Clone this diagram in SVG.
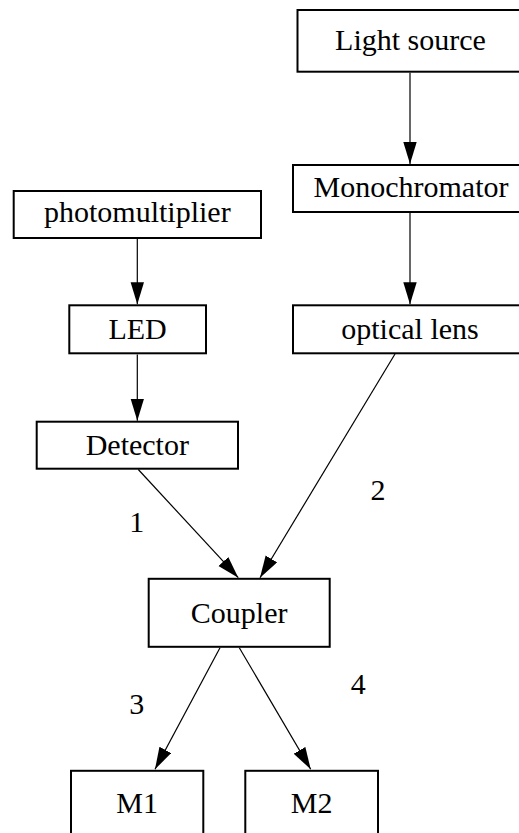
<svg xmlns="http://www.w3.org/2000/svg" width="519" height="833" viewBox="0 0 519 833">
<style>
.node rect{fill:#fff;stroke:#000;stroke-width:2}
.edge{stroke:#000;stroke-width:1.2;fill:none}
</style>
<defs>
<marker id="ah" markerUnits="userSpaceOnUse" markerWidth="22" markerHeight="14" refX="22" refY="6.7" orient="auto">
<path d="M0,0 L22,6.7 L0,13.4 z" fill="#000"/>
</marker>
</defs>
<g font-family="'Liberation Serif', 'Times New Roman', Times, serif" font-size="30" text-anchor="middle" fill="#000">
<g id="connectors">
<line class="edge" x1="410" y1="72.7" x2="410" y2="164" marker-end="url(#ah)"/>
<line class="edge" x1="410" y1="213" x2="410" y2="304.3" marker-end="url(#ah)"/>
<line class="edge" x1="137.3" y1="239" x2="137.3" y2="304.3" marker-end="url(#ah)"/>
<line class="edge" x1="137.3" y1="354.5" x2="137.3" y2="420.7" marker-end="url(#ah)"/>
<line class="edge" x1="138.3" y1="469.5" x2="238.3" y2="577.7" marker-end="url(#ah)"/>
<line class="edge" x1="395" y1="354" x2="260" y2="577.7" marker-end="url(#ah)"/>
<line class="edge" x1="220" y1="647.7" x2="155" y2="769.3" marker-end="url(#ah)"/>
<line class="edge" x1="239.3" y1="647.7" x2="310.7" y2="769.3" marker-end="url(#ah)"/>
<text x="136.7" y="532">1</text>
<text x="378" y="500">2</text>
<text x="136.7" y="714">3</text>
<text x="358.3" y="694">4</text>
</g>
<g id="light-source" class="node"><rect x="297.5" y="10" width="226" height="61.7"/><text x="410.5" y="50">Light source</text></g>
<g id="monochromator" class="node"><rect x="293" y="165" width="234" height="47"/><text x="411" y="197">Monochromator</text></g>
<g id="photomultiplier" class="node"><rect x="13.7" y="191" width="247.3" height="47"/><text x="137.3" y="222">photomultiplier</text></g>
<g id="led" class="node"><rect x="69.3" y="305.3" width="136.7" height="48"/><text x="137.6" y="339.3">LED</text></g>
<g id="optical-lens" class="node"><rect x="293" y="305.3" width="234" height="48"/><text x="410" y="339.3">optical lens</text></g>
<g id="detector" class="node"><rect x="36.7" y="421.7" width="201.3" height="47"/><text x="137.3" y="455">Detector</text></g>
<g id="coupler" class="node"><rect x="148.7" y="578.8" width="181" height="68"/><text x="239.2" y="623.3">Coupler</text></g>
<g id="m1" class="node"><rect x="71" y="770.8" width="132.3" height="70"/><text x="137.2" y="813.3">M1</text></g>
<g id="m2" class="node"><rect x="245.3" y="770.8" width="132.7" height="70"/><text x="311.7" y="813.3">M2</text></g>
</g>
</svg>
